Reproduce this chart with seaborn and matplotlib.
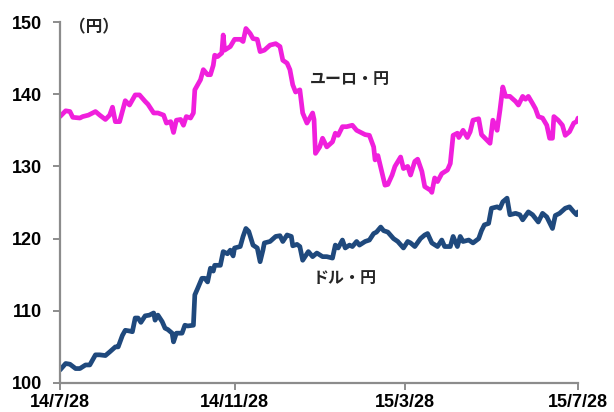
import matplotlib
matplotlib.use("Agg")
import matplotlib.pyplot as plt
import seaborn as sns
import pandas as pd

# EUR/JPY: days since 2014-07-28 and closing rate (yen)
eur_days = [0, 4, 7, 9, 14, 16, 20, 25, 28, 32, 35, 37, 39, 42, 46, 49, 53, 56, 60, 62,
            66, 69, 73, 75, 78, 80, 82, 85, 87, 89, 92, 94, 95, 99, 101, 104, 106, 108, 109, 111,
            114, 115, 116, 120, 123, 127, 129, 131, 134, 136, 139, 141, 144, 148, 152, 155, 157, 160, 162, 164,
            166, 169, 171, 174, 178, 179, 180, 183, 185, 188, 192, 194, 196, 199, 202, 206, 209, 213, 215, 218,
            221, 222, 224, 227, 229, 231, 234, 236, 240, 242, 245, 247, 250, 252, 255, 257, 261, 262, 264, 266,
            269, 273, 275, 277, 280, 281, 284, 287, 289, 291, 295, 297, 299, 303, 305, 308, 310, 312, 314, 317,
            321, 323, 326, 328, 330, 333, 335, 337, 340, 343, 345, 347, 348, 351, 354, 356, 359, 362, 364, 365]
eur_jpy = [136.9, 137.7, 137.6, 136.8, 136.7, 136.9, 137.1, 137.6, 137.1, 136.5, 137.1, 138.2, 136.2, 136.2, 139.1, 138.5, 139.9, 139.9, 139.0, 138.6,
           137.4, 137.4, 137.1, 136.0, 136.2, 134.7, 136.4, 136.5, 135.7, 136.9, 136.7, 137.4, 140.6, 142.0, 143.4, 142.7, 142.7, 144.0, 145.4, 145.2,
           145.7, 148.2, 146.1, 146.6, 147.6, 147.6, 147.3, 149.1, 148.4, 147.7, 147.6, 145.9, 146.1, 146.8, 147.0, 146.6, 144.7, 144.3, 143.4, 141.3,
           140.3, 140.6, 137.4, 136.0, 137.4, 136.5, 131.8, 132.7, 133.9, 132.7, 133.4, 134.6, 134.3, 135.5, 135.5, 135.7, 135.0, 134.6, 134.4, 134.3,
           132.7, 130.9, 131.5, 129.0, 127.4, 127.5, 128.8, 130.0, 131.3, 129.7, 130.0, 128.8, 130.7, 131.0, 129.3, 127.2, 126.7, 126.4, 128.4, 127.9,
           129.0, 129.5, 130.4, 134.3, 134.6, 134.0, 135.0, 134.0, 134.8, 136.4, 136.6, 134.4, 134.0, 133.2, 136.4, 135.0, 137.8, 141.0, 139.7, 139.7,
           139.0, 138.5, 139.7, 139.3, 139.7, 138.7, 138.0, 136.9, 136.7, 135.7, 133.9, 133.9, 136.9, 136.4, 135.7, 134.3, 134.8, 136.0, 136.2, 136.7]

# USD/JPY: days since 2014-07-28 and closing rate (yen)
usd_days = [0, 4, 7, 11, 14, 18, 21, 25, 28, 32, 35, 39, 41, 44, 46, 49, 51, 53, 55, 57,
            60, 63, 66, 67, 69, 72, 74, 76, 79, 80, 82, 86, 88, 90, 94, 95, 97, 100, 102, 104,
            106, 108, 109, 113, 115, 118, 120, 122, 123, 127, 129, 131, 133, 136, 139, 141, 143, 144, 148, 152,
            155, 157, 160, 163, 164, 167, 169, 171, 175, 178, 181, 185, 188, 192, 194, 196, 199, 201, 204, 206,
            209, 211, 215, 218, 221, 223, 226, 228, 231, 235, 238, 242, 245, 247, 250, 254, 257, 259, 262, 266,
            269, 271, 275, 277, 280, 282, 284, 288, 291, 295, 297, 299, 302, 304, 308, 310, 312, 315, 317, 321,
            324, 326, 330, 333, 337, 340, 343, 347, 349, 352, 356, 359, 362, 364, 365]
usd_jpy = [101.8, 102.7, 102.6, 102.0, 102.0, 102.5, 102.5, 103.9, 103.9, 103.8, 104.3, 105.0, 105.0, 106.6, 107.3, 107.2, 107.1, 109.0, 109.0, 108.4,
           109.3, 109.4, 109.7, 108.7, 109.4, 108.5, 107.6, 107.4, 106.9, 105.7, 106.9, 106.9, 108.0, 107.9, 108.0, 112.2, 113.1, 114.5, 114.5, 114.0,
           115.9, 115.5, 116.3, 116.3, 118.2, 117.9, 118.4, 117.6, 118.7, 118.9, 120.3, 121.4, 121.0, 119.1, 118.7, 116.8, 118.4, 119.4, 119.6, 120.3,
           120.4, 119.6, 120.5, 120.3, 119.0, 119.2, 118.9, 117.0, 118.2, 117.5, 118.0, 117.5, 117.5, 117.3, 119.1, 118.7, 119.8, 118.7, 119.1, 118.9,
           119.6, 119.1, 119.6, 119.8, 120.7, 120.9, 121.6, 121.1, 120.9, 120.0, 119.6, 118.7, 119.6, 119.4, 118.9, 120.0, 120.5, 120.7, 119.4, 118.9,
           119.8, 118.9, 118.9, 120.3, 118.9, 120.3, 119.6, 119.8, 119.4, 120.0, 121.1, 121.9, 122.1, 124.2, 124.4, 124.2, 125.1, 125.6, 123.3, 123.5,
           123.3, 122.6, 123.7, 123.3, 122.3, 123.5, 123.0, 121.4, 123.2, 123.5, 124.2, 124.4, 123.7, 123.3, 123.7]

tick_dates = ["2014-07-28", "2014-11-28", "2015-03-28", "2015-07-28"]
tick_labels = ["14/7/28", "14/11/28", "15/3/28", "15/7/28"]
y_ticks = [100, 110, 120, 130, 140, 150]

start = pd.Timestamp("2014-07-28")
eur = pd.DataFrame({"date": start + pd.to_timedelta(eur_days, unit="D"), "rate": eur_jpy})
usd = pd.DataFrame({"date": start + pd.to_timedelta(usd_days, unit="D"), "rate": usd_jpy})

sns.set_theme(style="white")
plt.rcParams["font.family"] = ["Liberation Sans", "Noto Sans CJK JP", "DejaVu Sans"]

fig = plt.figure(figsize=(6.14, 4.12), dpi=100)
ax = fig.add_axes([0.0977, 0.0704, 0.8437, 0.8762])

sns.lineplot(data=eur, x="date", y="rate", ax=ax, color="#F01FDC", linewidth=3.4)
sns.lineplot(data=usd, x="date", y="rate", ax=ax, color="#1F497D", linewidth=3.4)

ax.set_xlim(pd.Timestamp(tick_dates[0]), pd.Timestamp(tick_dates[-1]))
ax.set_ylim(100, 150)
ax.set_xticks([pd.Timestamp(d) for d in tick_dates])
ax.set_xticklabels(tick_labels)
ax.set_yticks(y_ticks)
ax.set_xlabel("")
ax.set_ylabel("")

for side in ("top", "right"):
    ax.spines[side].set_visible(False)
for side in ("left", "bottom"):
    ax.spines[side].set_color("#8C8C8C")
    ax.spines[side].set_linewidth(1.6)

ax.tick_params(axis="both", which="major", length=5, width=1.4, color="#8C8C8C",
               labelsize=13, labelcolor="black", bottom=True, left=True)
ax.tick_params(axis="y", pad=8)
ax.tick_params(axis="x", pad=3)
for lbl in ax.get_xticklabels() + ax.get_yticklabels():
    lbl.set_fontweight("bold")

jp = ["Noto Sans CJK JP", "DejaVu Sans"]
ax.text(0.018, 0.985, "（円）", transform=ax.transAxes, family=jp, fontsize=12,
        fontweight="bold", ha="left", va="center")
ax.text(pd.Timestamp("2015-01-20"), 142.1, "ユーロ・円", family=jp, fontsize=11.5,
        fontweight="bold", ha="left", va="center")
ax.text(pd.Timestamp("2015-01-22"), 114.5, "ドル・円", family=jp, fontsize=11.5,
        fontweight="bold", ha="left", va="center")

fig.savefig("out.png", dpi=100)
